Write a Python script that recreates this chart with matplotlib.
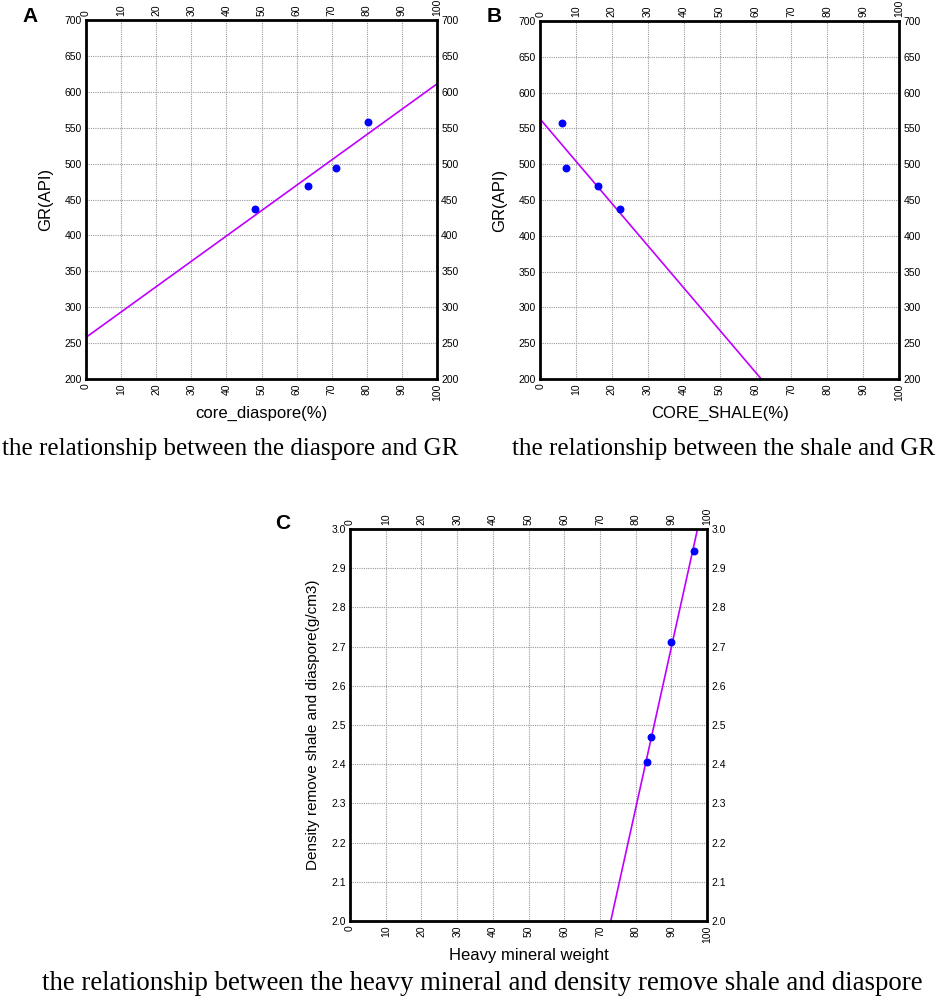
import matplotlib
matplotlib.use("Agg")
import matplotlib.pyplot as plt

# panel A: diaspore vs GR
dia_x = [48.2, 63.2, 71.3, 80.3]
dia_gr = [437, 469, 494, 558]
fit_a_x = [0, 100]
fit_a_y = [258, 611]

# panel B: shale vs GR
sh_x = [6.2, 7.2, 16.2, 22.2]
sh_gr = [557, 494, 469, 438]
fit_b_x = [0, 61.6]
fit_b_y = [563, 200]

# panel C: heavy mineral vs density
hm_x = [83.1, 84.4, 90.0, 96.2]
hm_den = [2.405, 2.469, 2.713, 2.943]
fit_c_x = [73.0, 97.3]
fit_c_y = [2.0, 3.0]

x_ticks = list(range(0, 101, 10))
gr_ticks = list(range(200, 701, 50))
den_ticks = [2.0, 2.1, 2.2, 2.3, 2.4, 2.5, 2.6, 2.7, 2.8, 2.9, 3.0]

LINE_C = "#c000ff"
PT_C = "#0000ff"
SANS = ["Liberation Sans Narrow", "Liberation Sans", "DejaVu Sans"]
SERIF = ["Liberation Serif", "DejaVu Serif"]


def style_panel(ax, yticks, ylim, yfmt, xlabel, ylabel, ysize=12):
    ax.set_xlim(0, 100)
    ax.set_ylim(*ylim)
    ax.set_xticks(x_ticks)
    ax.set_yticks(yticks)
    ax.set_yticklabels([yfmt.format(v) for v in yticks], fontsize=7.5, family=SANS)
    ax.set_xticklabels([str(v) for v in x_ticks], fontsize=7.5, family=SANS)
    ax.tick_params(axis="both", length=0, pad=3,
                   top=True, labeltop=True, right=True, labelright=True)
    ax.tick_params(axis="x", labelrotation=90)
    ax.grid(True, color="#9a9a9a", linestyle=(0, (1, 1)), linewidth=0.8)
    for sp in ax.spines.values():
        sp.set_linewidth(2.0)
        sp.set_color("black")
    ax.set_xlabel(xlabel, fontsize=12, family=SANS, labelpad=4)
    ax.set_ylabel(ylabel, fontsize=ysize, family=SANS, labelpad=8)
    for lab in ax.get_yticklabels():
        lab.set_family(SANS)
        lab.set_fontsize(7.5)


fig = plt.figure(figsize=(9.41, 10), dpi=100)

ax_a = fig.add_axes([0.0914, 0.621, 0.373, 0.359])
ax_a.plot(fit_a_x, fit_a_y, color=LINE_C, linewidth=1.2)
ax_a.scatter(dia_x, dia_gr, s=22, color=PT_C, zorder=3)
style_panel(ax_a, gr_ticks, (200, 700), "{:d}", "core_diaspore(%)", "GR(API)")

ax_b = fig.add_axes([0.574, 0.621, 0.3815, 0.358])
ax_b.plot(fit_b_x, fit_b_y, color=LINE_C, linewidth=1.2)
ax_b.scatter(sh_x, sh_gr, s=22, color=PT_C, zorder=3)
style_panel(ax_b, gr_ticks, (200, 700), "{:d}", "CORE_SHALE(%)", "GR(API)")

ax_c = fig.add_axes([0.372, 0.079, 0.3795, 0.392])
ax_c.plot(fit_c_x, fit_c_y, color=LINE_C, linewidth=1.2)
ax_c.scatter(hm_x, hm_den, s=22, color=PT_C, zorder=3)
style_panel(ax_c, den_ticks, (2.0, 3.0), "{:.1f}", "Heavy mineral weight",
            "Density remove shale and diaspore(g/cm3)", ysize=11)

# panel letters
fig.text(0.024, 0.993, "A", fontsize=15, fontweight="bold", family="Liberation Sans", va="top")
fig.text(0.517, 0.993, "B", fontsize=15, fontweight="bold", family="Liberation Sans", va="top")
fig.text(0.292, 0.486, "C", fontsize=15, fontweight="bold", family="Liberation Sans", va="top")

# captions
fig.text(0.245, 0.551, "the relationship between the diaspore and GR", fontsize=18,
         family=SERIF, ha="center", va="center")
fig.text(0.769, 0.551, "the relationship between the shale and GR", fontsize=18,
         family=SERIF, ha="center", va="center")
fig.text(0.513, 0.016, "the relationship between the heavy mineral and density remove shale and diaspore",
         fontsize=19.3, family=SERIF, ha="center", va="center")

fig.savefig("out.png", dpi=100, facecolor="white")
